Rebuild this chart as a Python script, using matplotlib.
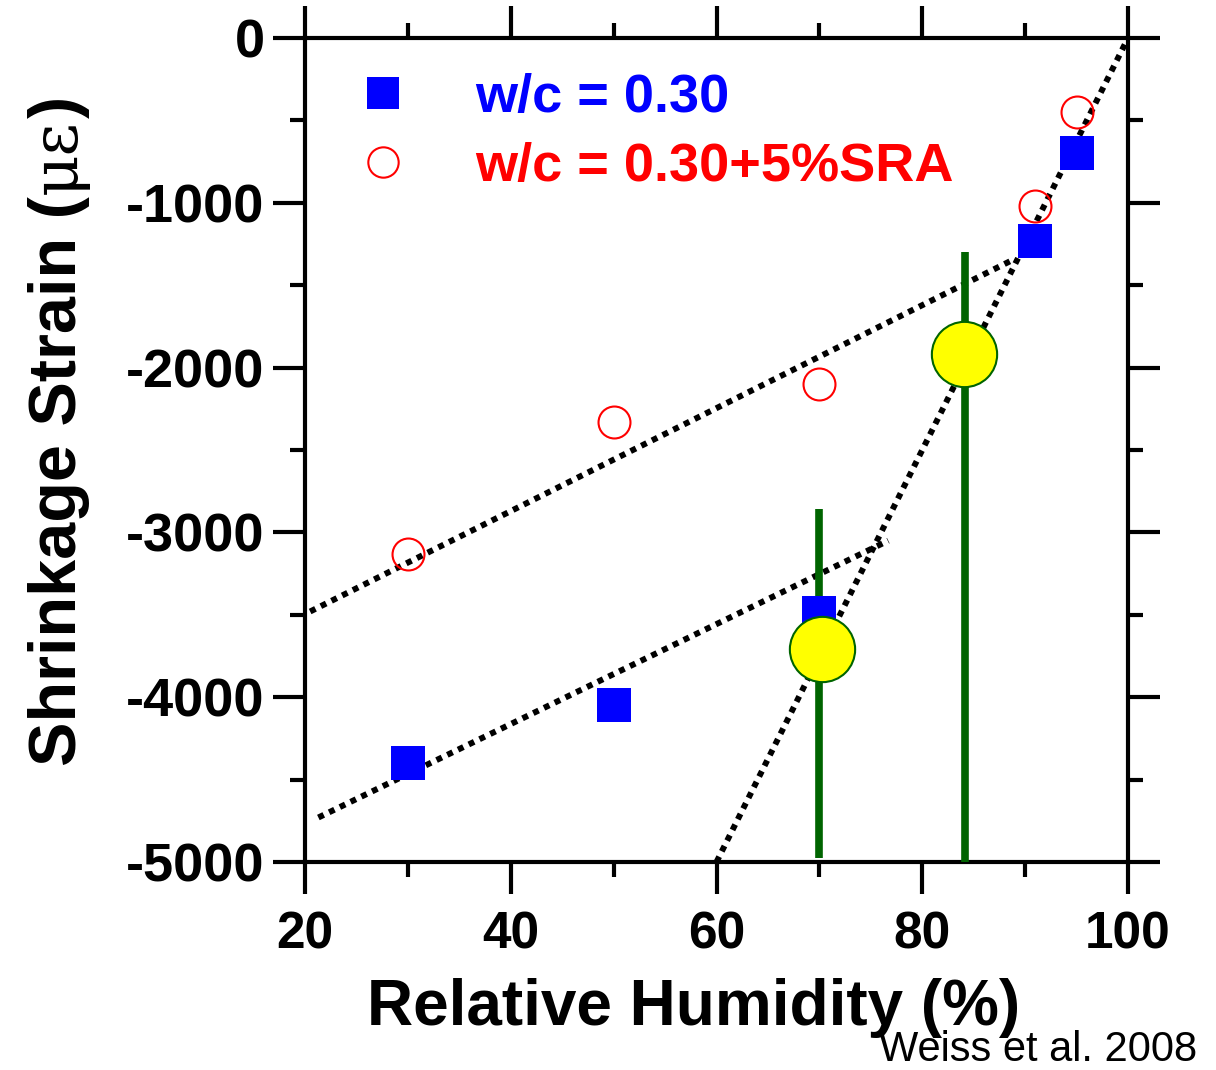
import numpy as np
import matplotlib
matplotlib.use("Agg")
import matplotlib.pyplot as plt


# dados
rh = [30, 50, 70, 91, 95]
strain_wc030 = [-4400, -4050, -3490, -1230, -700]
strain_sra = [-3130, -2330, -2100, -1020, -450]

# pontos amarelos (intersecao) e linhas verdes
cross_rh = [70.3, 84.1]
cross_strain = [-3710, -1920]
vline_rh = [70.0, 84.2]
vline_top = [-2860, -1300]
vline_bottom = [-4975, -5000]

# linhas de tendencia pontilhadas
fit_sra_x = [20.5, 89.0]
fit_sra_y = [-3480, -1340]
fit_wc_x = [21.3, 76.7]
fit_wc_y = [-4730, -3050]
fit_steep_x = [60, 100]
fit_steep_y = [-5000, 0]

xticks = [20, 40, 60, 80, 100]
yticks = [0, -1000, -2000, -3000, -4000, -5000]
ytick_labels = ["0", "-1000", "-2000", "-3000", "-4000", "-5000"]

plt.rcParams['font.family'] = ['Liberation Sans', 'DejaVu Sans']
plt.rcParams['font.weight'] = 'bold'

W, H = 1216, 1070
fig = plt.figure(figsize=(W/100, H/100), dpi=100)
ax = fig.add_axes([305/W, 1-862/H, 823/W, 824/H])

dots = dict(color='black', lw=4.3, linestyle=(0, (1, 1)), dash_capstyle='butt')
ax.plot(fit_sra_x, fit_sra_y, **dots)
ax.plot(fit_wc_x, fit_wc_y, **dots)
ax.plot(fit_steep_x, fit_steep_y, **dots)

for x, y0, y1 in zip(vline_rh, vline_bottom, vline_top):
    ax.plot([x, x], [y0, y1], color='#006400', lw=5.5, solid_capstyle='butt', zorder=3)

ax.plot(rh, strain_wc030, 's', color='blue', ms=24, mec='blue', mew=0,
        label='w/c = 0.30', zorder=4)
ax.plot(rh, strain_sra, 'o', color='red', ms=23, mfc='none', mec='red', mew=1.5,
        label='w/c = 0.30+5%SRA', zorder=4)
ax.plot(cross_rh, cross_strain, 'o', ms=47, mfc='yellow', mec='#006400', mew=1.5, zorder=5)

ax.set_xlim(20, 100)
ax.set_ylim(-5000, 0)
ax.set_xticks(xticks)
ax.set_xticks(np.arange(20, 101, 10), minor=True)
ax.set_yticks(yticks)
ax.set_yticklabels(ytick_labels)
ax.set_yticks(np.arange(-5000, 1, 500), minor=True)

for s in ax.spines.values():
    s.set_linewidth(3)
ax.tick_params(which='both', direction='out', top=True, right=True, width=3)
ax.tick_params(which='major', length=23, pad=6)
ax.tick_params(which='minor', length=11)
ax.tick_params(axis='x', labelsize=37, pad=12)
ax.tick_params(axis='y', labelsize=39, pad=6)

leg = ax.legend(loc='upper left', bbox_to_anchor=(0.062, 0.957), frameon=False,
                fontsize=39, handlelength=1, handletextpad=1.2, labelspacing=0.35,
                borderaxespad=0, borderpad=0, labelcolor='linecolor', markerscale=0.95)

# titulo do eixo y em tres partes (με noutra fonte)
base_x = 76
t1 = fig.text(base_x/W, 1-766/H, 'Shrinkage Strain (', rotation=90, rotation_mode='anchor',
              ha='left', va='baseline', fontsize=48)
fig.canvas.draw()
top = t1.get_window_extent().y1
t2 = fig.text(base_x/W, (top + 2)/H, '\u03bc\u03b5', rotation=90, rotation_mode='anchor',
              ha='left', va='baseline', fontsize=46, family='DejaVu Serif', fontweight='normal')
fig.canvas.draw()
top = t2.get_window_extent().y1
fig.text(base_x/W, (top + 2)/H, ')', rotation=90, rotation_mode='anchor',
         ha='left', va='baseline', fontsize=48)

fig.text(694/W, 1-1008/H, 'Relative Humidity (%)', ha='center', va='center', fontsize=46)
fig.text(1197/W, 1-1050/H, 'Weiss et al. 2008', ha='right', va='center',
         fontsize=30, fontweight='normal')

fig.savefig('out.png', dpi=100)
